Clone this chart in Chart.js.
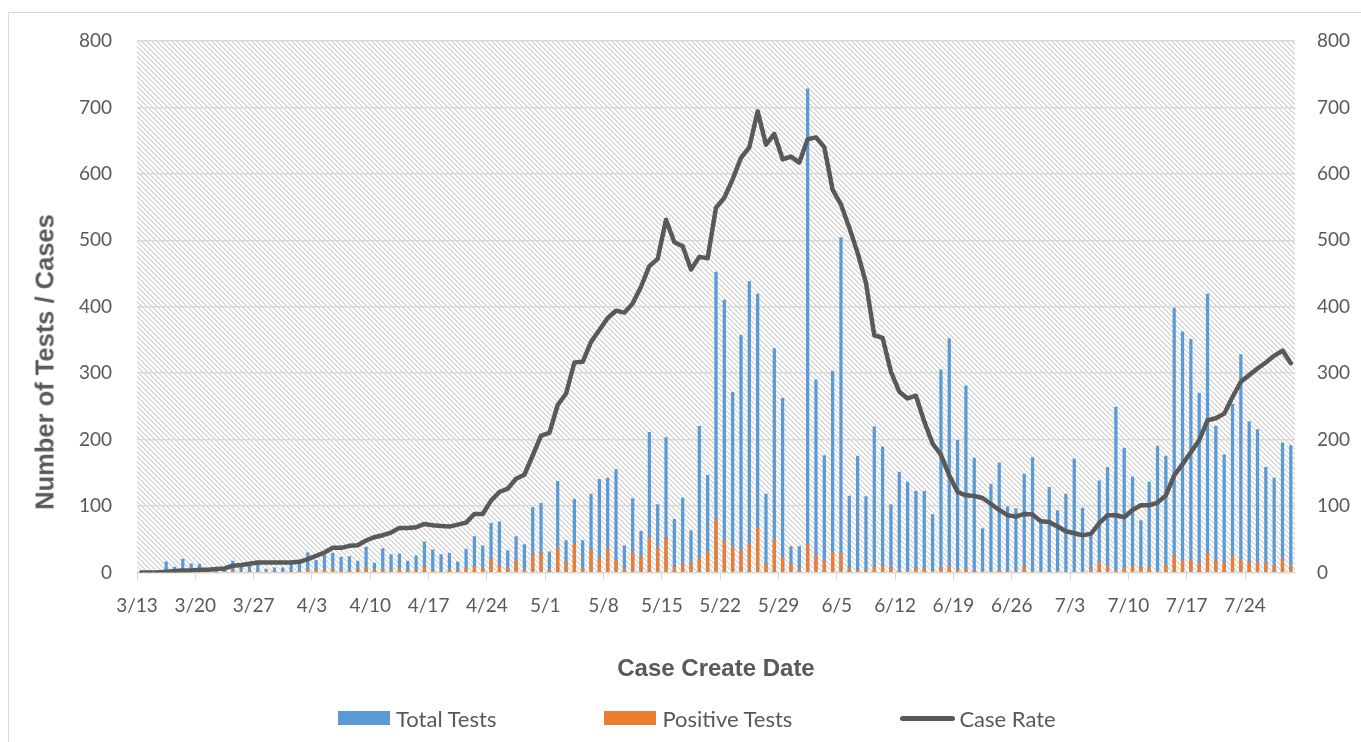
<!DOCTYPE html>
<html>
<head>
<meta charset="utf-8">
<script src="https://cdn.jsdelivr.net/npm/chart.js@4.4.0/dist/chart.umd.min.js"></script>
<style>
  html, body { margin: 0; padding: 0; background: #fff; overflow: hidden; }
  #frame { position: absolute; left: 8px; top: 12px; width: 1400px; height: 800px; border: 1px solid #d9d9d9; }
  #wrap { position: absolute; left: 0; top: 0; width: 1361px; height: 742px; }
  #ytitle { position: absolute; left: 45px; top: 362px; transform: translate(-50%, -50%) rotate(-90deg);
    white-space: nowrap; font: bold 25.5px 'Liberation Sans', Arial, sans-serif; color: #595959; }
  #legend { position: absolute; left: 338px; top: 706px; display: flex; gap: 108px;
    font: 22px Lato, sans-serif; color: #595959; }
  .item { display: flex; align-items: center; height: 24px; }
  .swatch { width: 52px; height: 14px; margin-right: 6px; }
  .swatch.line { width: 55px; height: 5px; border-radius: 3px; margin-right: 4px; }
</style>
</head>
<body>
<div id="frame"></div>
<div id="wrap"><canvas id="chart" width="1361" height="742"></canvas></div>
<div id="ytitle">Number of Tests / Cases</div>
<div id="legend"></div>
<script>
// one label every 7 days, first day is 3/13
const weekLabels = ['3/13', '3/20', '3/27', '4/3', '4/10', '4/17', '4/24', '5/1', '5/8', '5/15',
  '5/22', '5/29', '6/5', '6/12', '6/19', '6/26', '7/3', '7/10', '7/17', '7/24'];

// daily values, 3/13 .. 7/29
const totalTests = [
  0, 2, 3, 16, 8, 20, 13, 13, 6, 5, 7, 17, 10, 12, 12, 5, 7, 7, 12, 13,
  30, 18, 26, 29, 23, 24, 17, 38, 14, 36, 27, 28, 17, 25, 46, 34, 27, 29, 16, 35,
  54, 40, 74, 76, 33, 54, 42, 98, 104, 31, 137, 48, 110, 48, 118, 140, 142, 155, 40, 111,
  62, 211, 102, 203, 80, 112, 63, 220, 146, 452, 410, 271, 357, 438, 419, 118, 337, 262, 39, 39,
  728, 290, 176, 303, 504, 115, 175, 114, 219, 189, 102, 151, 136, 122, 122, 87, 305, 352, 199, 281,
  172, 66, 133, 165, 99, 96, 148, 173, 75, 128, 93, 118, 171, 97, 55, 138, 158, 249, 187, 144,
  78, 136, 190, 175, 398, 362, 351, 270, 419, 220, 177, 253, 328, 227, 215, 158, 142, 195, 191
];
const positiveTests = [
  0, 0, 0, 1, 0, 1, 1, 0, 1, 0, 1, 2, 1, 1, 2, 1, 1, 1, 2, 2,
  3, 4, 4, 5, 3, 3, 5, 6, 4, 3, 3, 6, 2, 3, 8, 2, 2, 4, 3, 6,
  9, 6, 20, 11, 6, 19, 4, 26, 30, 4, 37, 16, 42, 6, 34, 21, 35, 19, 4, 30,
  24, 52, 37, 52, 8, 11, 14, 22, 31, 80, 47, 39, 33, 43, 67, 13, 49, 22, 12, 4,
  42, 26, 17, 30, 29, 7, 3, 3, 8, 10, 8, 2, 2, 7, 6, 2, 6, 10, 4, 5,
  2, 2, 1, 3, 1, 2, 8, 1, 1, 1, 2, 1, 1, 2, 5, 15, 9, 2, 7, 9,
  8, 8, 2, 10, 25, 17, 19, 14, 28, 17, 14, 24, 19, 16, 15, 14, 10, 20, 10
];
const caseRate = [
  0, 0, 0, 1, 2, 3, 3, 4, 4, 5, 6, 10, 11, 13, 15, 15, 15, 15, 15, 16,
  20, 25, 30, 37, 37, 40, 41, 48, 53, 56, 60, 67, 67, 68, 73, 71, 70, 69, 72, 75,
  88, 88, 108, 121, 126, 141, 147, 176, 206, 210, 252, 269, 316, 317, 347, 365, 383, 394, 391, 405,
  430, 461, 472, 531, 497, 491, 456, 475, 473, 549, 564, 592, 624, 640, 694, 644, 660, 622, 626, 617,
  652, 655, 640, 576, 554, 519, 481, 436, 357, 353, 302, 272, 262, 266, 227, 194, 177, 146, 121, 116,
  115, 112, 103, 94, 86, 84, 88, 87, 77, 76, 69, 62, 59, 56, 58, 74, 86, 86, 83, 94,
  101, 101, 105, 116, 146, 163, 181, 199, 229, 232, 239, 264, 287, 297, 307, 316, 326, 334, 315
];

const toPoints = (values) => values.map((v, i) => ({ x: i, y: v }));

const textColor = '#595959';
const gridColor = '#d9d9d9';
const tickFont = { family: 'Lato', size: 19 };

// light downward diagonal fill behind the plot
const hatch = {
  id: 'hatch',
  beforeDraw(chart) {
    const { ctx, chartArea: a } = chart;
    const tile = document.createElement('canvas');
    tile.width = 5;
    tile.height = 5;
    const t = tile.getContext('2d');
    t.fillStyle = '#dadada';
    for (let i = 0; i < 5; i++) t.fillRect(i, i, 2, 1);
    t.fillRect(0, 4, 1, 1);
    ctx.save();
    ctx.fillStyle = ctx.createPattern(tile, 'repeat');
    ctx.fillRect(a.left, a.top, a.right - a.left, a.bottom - a.top);
    ctx.restore();
  }
};

// legend built as html so the item spacing can follow the picture
const htmlLegend = {
  id: 'htmlLegend',
  afterUpdate(chart) {
    const box = document.getElementById('legend');
    box.innerHTML = '';
    chart.data.datasets.forEach((ds) => {
      const item = document.createElement('div');
      item.className = 'item';
      const sw = document.createElement('span');
      sw.className = ds.type === 'line' ? 'swatch line' : 'swatch';
      sw.style.background = ds.type === 'line' ? ds.borderColor : ds.backgroundColor;
      const label = document.createElement('span');
      label.textContent = ds.label;
      item.appendChild(sw);
      item.appendChild(label);
      box.appendChild(item);
    });
  }
};

const ctx = document.getElementById('chart').getContext('2d');
const chart = new Chart(ctx, {
  data: {
    datasets: [
      {
        type: 'bar',
        label: 'Total Tests',
        data: toPoints(totalTests),
        backgroundColor: '#5b9bd5',
        barThickness: 2.6,
        grouped: false,
        order: 3,
      },
      {
        type: 'bar',
        label: 'Positive Tests',
        data: toPoints(positiveTests),
        backgroundColor: '#ed7d31',
        barThickness: 2.6,
        grouped: false,
        order: 2,
      },
      {
        type: 'line',
        label: 'Case Rate',
        data: toPoints(caseRate),
        yAxisID: 'y1',
        borderColor: '#595959',
        borderWidth: 4.5,
        pointRadius: 0,
        tension: 0,
        borderJoinStyle: 'round',
        borderCapStyle: 'round',
        order: 1,
      },
    ],
  },
  options: {
    responsive: false,
    animation: false,
    layout: { padding: { left: 0, right: 0, top: 41, bottom: 58 } },
    plugins: {
      legend: { display: false },
      tooltip: { enabled: false },
    },
    scales: {
      x: {
        type: 'linear',
        min: -0.5,
        max: totalTests.length - 0.5,
        offset: false,
        afterBuildTicks: (scale) => {
          scale.ticks = weekLabels.map((l, i) => ({ value: i * 7 - 0.5 }));
        },
        ticks: {
          callback: (v, i) => weekLabels[i],
          autoSkip: false,
          maxRotation: 0,
          padding: 14,
          color: textColor,
          font: tickFont,
        },
        grid: { drawOnChartArea: false, drawTicks: true, tickLength: 8, color: gridColor, offset: false },
        border: { color: gridColor },
        title: {
          display: true,
          text: 'Case Create Date',
          color: textColor,
          font: { family: 'Liberation Sans', size: 24, weight: 'bold' },
          padding: { top: 24, bottom: 0 },
        },
      },
      y: {
        position: 'left',
        min: 0,
        max: 800,
        afterFit: (scale) => { scale.width = 137; },
        ticks: { stepSize: 100, padding: 25, color: textColor, font: tickFont },
        grid: { color: gridColor, lineWidth: 1.5, drawTicks: false },
        border: { display: false },
      },
      y1: {
        position: 'right',
        min: 0,
        max: 800,
        afterFit: (scale) => { scale.width = 66; },
        ticks: { stepSize: 100, padding: 22, color: textColor, font: tickFont },
        grid: { drawOnChartArea: false, drawTicks: false },
        border: { display: false },
      },
    },
  },
  plugins: [hatch, htmlLegend],
});
</script>
</body>
</html>
